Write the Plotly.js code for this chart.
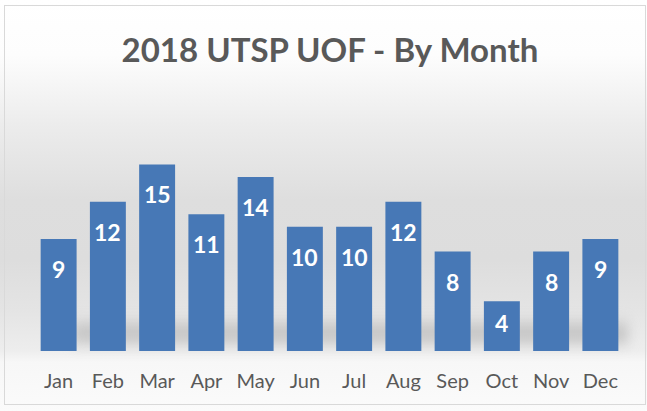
<!DOCTYPE html>
<html>
<head>
<meta charset="utf-8">
<script src="https://cdn.plot.ly/plotly-3.0.1.min.js"></script>
<style>
  html, body { margin:0; padding:0; background:#ffffff; }
  #wrap { position:relative; width:647px; height:411px; overflow:hidden;
    background: linear-gradient(to bottom, #ffffff 0px, #fdfdfd 55px, #ececec 125px, #dedede 200px, #dddddd 260px, #e4e4e4 310px, #ededed 350px, #f7f7f7 362px, #fbfbfb 411px); }
  #shadow { position:absolute; left:72px; width:556px; top:316px; height:32px;
    background: linear-gradient(to bottom, rgba(170,170,170,0.0), rgba(160,160,160,0.5) 45%, rgba(170,170,170,0.45) 80%, rgba(190,190,190,0.0));
    filter: blur(6px); }
  #frame { position:absolute; left:4px; top:5px; width:642px; height:400px; border:1px solid #d9d9d9; box-sizing:border-box; pointer-events:none; }
  #chart { position:absolute; left:0; top:0; width:647px; height:411px; }
</style>
</head>
<body>
<div id="wrap">
  <div id="shadow"></div>
  <div id="chart"></div>
  <div id="frame"></div>
</div>
<script>
const months = ["Jan","Feb","Mar","Apr","May","Jun","Jul","Aug","Sep","Oct","Nov","Dec"];
const counts = [9, 12, 15, 11, 14, 10, 10, 12, 8, 4, 8, 9];
const chartTitle = "2018 UTSP UOF - By Month";

const H = 411, mt = 152, mb = 60, yMax = 16;
const pxPerUnit = (H - mt - mb) / yMax;

const annotations = months.map((m, i) => ({
  x: m, y: counts[i], xref: 'x', yref: 'y',
  text: '<b>' + counts[i] + '</b>',
  showarrow: false, yanchor: 'middle',
  yshift: -Math.min(30, counts[i] * pxPerUnit / 2 - 3),
  font: { family: 'Lato, "Open Sans", sans-serif', size: 23, color: '#ffffff' }
}));

const trace = {
  type: 'bar', x: months, y: counts,
  marker: { color: '#4778b6', line: { width: 0 } },
  hoverinfo: 'x+y'
};

const layout = {
  width: 647, height: 411,
  margin: { l: 34, r: 22, t: mt, b: mb },
  paper_bgcolor: 'rgba(0,0,0,0)', plot_bgcolor: 'rgba(0,0,0,0)',
  bargap: 0.27,
  showlegend: false,
  title: { text: '<b>' + chartTitle + '</b>', x: 0.51, xanchor: 'center', y: 1 - 50/411, yanchor: 'middle',
           font: { family: 'Lato, "Open Sans", sans-serif', size: 33, color: '#595959' } },
  xaxis: { showgrid: false, zeroline: false, showline: false, ticks: '',
           tickfont: { family: 'Lato, "Open Sans", sans-serif', size: 20, color: '#595959' },
           ticklabelstandoff: 16 },
  yaxis: { range: [0, yMax], visible: false, showgrid: false, zeroline: false },
  annotations: annotations
};

Plotly.newPlot('chart', [trace], layout, { staticPlot: true, displayModeBar: false });
</script>
</body>
</html>
